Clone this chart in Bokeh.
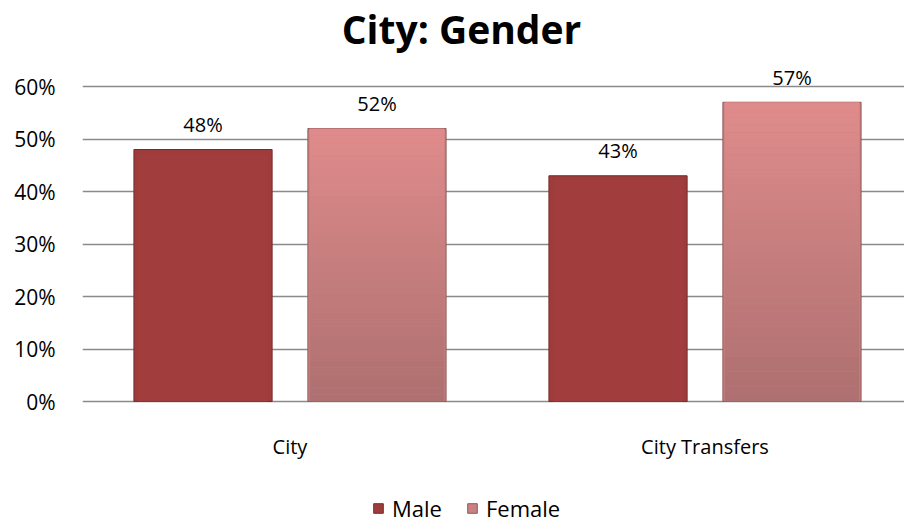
import numpy as np
from bokeh.plotting import figure
from bokeh.core.properties import value
from bokeh.models import (ColumnDataSource, Range1d, FixedTicker, NumeralTickFormatter,
                          LabelSet, Label, Legend, LegendItem)
from bokeh.transform import dodge
from bokeh.embed import file_html
from bokeh.resources import INLINE

title_text = "City: Gender"
categories = ["City", "City Transfers"]
series = ["Male", "Female"]
male = [0.48, 0.43]
female = [0.52, 0.57]
y_ticks = [0, 0.1, 0.2, 0.3, 0.4, 0.5, 0.6]

FONT = "Open Sans"
cat_x = [i + 0.5 for i in range(len(categories))]

# layout constants (pixels)
W, H = 904, 523
LEFT = 82          # frame left
ZERO_Y = 401       # page y of 0%
PX_PER_UNIT = 525  # pixels per 100%
CAT_W = 415        # pixels per category
TITLE_X, TITLE_Y = 461, 28

y_start = -(H - ZERO_Y) / PX_PER_UNIT
y_end = y_start + H / PX_PER_UNIT
x_end = (W - LEFT) / CAT_W

p = figure(width=W, height=H, output_backend="svg", toolbar_location=None,
           title=None, x_axis_location=None,
           x_range=Range1d(0, x_end), y_range=Range1d(y_start, y_end),
           min_border_left=LEFT, min_border_right=0, min_border_top=0,
           min_border_bottom=0)
p.outline_line_color = None
p.background_fill_color = "white"
p.border_fill_color = "white"

src = ColumnDataSource(dict(x=cat_x, male=male, female=female, zero=[0, 0],
                            cat=categories,
                            male_lbl=[f"{round(v*100)}%" for v in male],
                            female_lbl=[f"{round(v*100)}%" for v in female]))
w = 0.333
off = 0.2096
r_m = p.vbar(x=dodge("x", -off), top="male", width=w, source=src,
             fill_color="#9e3b3b", line_color="#7a2a2a", line_width=1)
r_f = p.vbar(x=dodge("x", off), top="female", width=w, source=src,
             fill_color="#c98181", line_color="#8f5a5a", line_width=1)

# gradient shading for the female bars (slices of each bar's own value)
N = 40
top_c = np.array([0xe0, 0x8c, 0x8c])
bot_c = np.array([0xae, 0x70, 0x70])
for i in range(N):
    t = (i + 0.5) / N
    c = bot_c + (top_c - bot_c) * t
    col = "#%02x%02x%02x" % tuple(int(v) for v in c)
    fb = [v * i / N for v in female]
    ft = [v * (i + 1) / N for v in female]
    p.vbar(x=[x + off for x in cat_x], bottom=fb, top=ft, width=w - 0.008,
           fill_color=col, line_color=None)
p.vbar(x=[x - off for x in cat_x], top=[v * 0.985 for v in male], width=w - 0.02,
       fill_color="#a13d3d", line_color=None)

# data labels
for col, lbl, o in (("male", "male_lbl", -off), ("female", "female_lbl", off)):
    p.add_layout(LabelSet(x=dodge("x", o), y=col, text=lbl, source=src,
                          text_align="center", text_baseline="middle", y_offset=25,
                          text_font=value(FONT), text_font_size="20px",
                          text_color="black"))

# category labels (x axis)
p.add_layout(LabelSet(x="x", y="zero", text="cat", source=src,
                      text_align="center", text_baseline="middle", y_offset=-45,
                      text_font=value(FONT), text_font_size="20px", text_color="black"))

# title
p.add_layout(Label(x=(TITLE_X - LEFT) / CAT_W, y=(ZERO_Y - TITLE_Y) / PX_PER_UNIT,
                   text=title_text, text_align="center", text_baseline="middle",
                   text_font=FONT, text_font_style="bold",
                   text_font_size="39px", text_color="black"))

# y axis
p.yaxis.ticker = FixedTicker(ticks=y_ticks)
p.yaxis.formatter = NumeralTickFormatter(format="0%")
p.yaxis.axis_line_color = None
p.yaxis.major_tick_line_color = None
p.yaxis.minor_tick_line_color = None
p.yaxis.major_label_standoff = 21
p.yaxis.major_label_text_font = FONT
p.yaxis.major_label_text_font_size = "21px"
p.yaxis.major_label_text_color = "black"

p.xgrid.grid_line_color = None
p.ygrid.ticker = FixedTicker(ticks=y_ticks)
p.ygrid.grid_line_color = "#8a8a8a"
p.ygrid.grid_line_width = 1.3

legend = Legend(items=[LegendItem(label=series[0], renderers=[r_m]),
                       LegendItem(label=series[1], renderers=[r_f])],
                orientation="horizontal", location=(290, 0),
                label_text_font=FONT, label_text_font_size="22px",
                label_text_color="black",
                glyph_width=12, glyph_height=12, spacing=24, padding=0, margin=0,
                border_line_color=None, background_fill_alpha=0, label_standoff=8)
p.add_layout(legend)

open("out.html", "w").write(file_html(p, INLINE))
